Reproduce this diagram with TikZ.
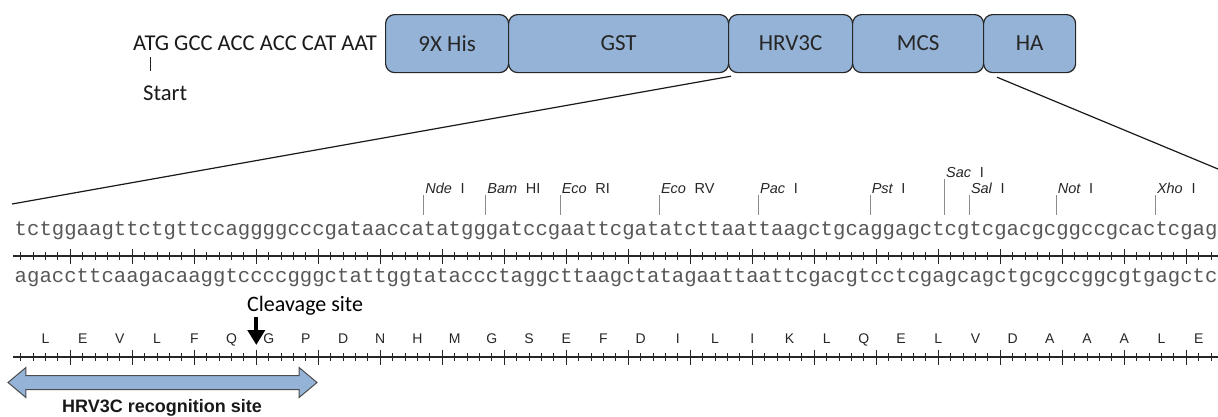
\documentclass[tikz,border=0pt]{standalone}
\usepackage{fontspec}
\setmainfont{Carlito}
\newfontfamily\arialf{Liberation Sans}
\newfontfamily\monof{Liberation Mono}
\usetikzlibrary{arrows.meta,calc,shapes.arrows}
\definecolor{boxblue}{RGB}{149,179,215}
\definecolor{seqgray}{RGB}{88,88,88}
\definecolor{cutgray}{RGB}{140,140,140}

\begin{document}
\begin{tikzpicture}[x=1pt,y=-1pt,
  tagbox/.style={draw=black!85,line width=1.2pt,fill=boxblue,rounded corners=9pt,
    minimum height=58pt,inner sep=0pt,anchor=north west,text=black!85,
    font=\fontsize{23}{27}\selectfont},
  seqtext/.style={inner sep=0pt,anchor=base west,text=seqgray,
    font=\monof\fontsize{20.667}{24}\selectfont},
  ruler/.style={line width=1.1pt,black!85},
  tickmark/.style={line width=1pt,black!85},
  cutline/.style={line width=1pt,cutgray},
  enzyme/.style={inner sep=0pt,anchor=base west,text=black!85,
    font=\arialf\fontsize{14.5}{17}\selectfont},
  aa/.style={inner sep=0pt,anchor=base,text=black!85,
    font=\arialf\fontsize{14}{16}\selectfont},
  zoomline/.style={line width=1.2pt,black!90},
  plaintext/.style={inner sep=0pt,text=black!90,font=\fontsize{22.6}{26}\selectfont}]
\useasboundingbox (0,0) rectangle (1218,416);

% fusion tag domains
\node[tagbox,minimum width=123pt] (his) at (385,14) {9X His};
\node[tagbox,minimum width=220pt] (gst) at (508,14) {GST};
\node[tagbox,minimum width=124pt] (hrv) at (728,14) {HRV3C};
\node[tagbox,minimum width=131pt] (mcs) at (852,14) {MCS};
\node[tagbox,minimum width=92pt]  (ha)  at (983,14) {HA};

% start codon and leader
\node[plaintext,anchor=west] (atg) at (133,43) {ATG GCC ACC ACC CAT AAT};
\node[plaintext,anchor=west] (start) at (143,93) {Start};
\coordinate (starttop) at (150,57);
\coordinate (startbot) at (150,71);
\draw[line width=1pt,black!85] (starttop) -- (startbot);

% zoom-in lines from the HRV3C--MCS region to the sequence
\coordinate (zoomL) at (12,204);
\coordinate (zoomR) at (1218,169);
\draw[zoomline] ($(hrv.south west)+(3,3)$) -- (zoomL);
\draw[zoomline] ($(ha.south west)+(14,4)$) -- (zoomR);

% double-stranded sequence
\node[seqtext] (topstrand) at (14.5,235.5)
  {tctggaagttctgttccaggggcccgataaccatatgggatccgaattcgatatcttaattaagctgcaggagctcgtcgacgcggccgcactcgag};
\node[seqtext] (botstrand) at (14.5,282)
  {agaccttcaagacaaggtccccgggctattggtataccctaggcttaagctatagaattaattcgacgtcctcgagcagctgcgccggcgtgagctc};

% nucleotide rulers
\foreach \ry in {256,357}{
  \draw[ruler] (13,\ry) -- (1218,\ry);
  \foreach \i in {0,...,96}{
    \pgfmathsetmacro{\tx}{14.5+(\i+0.5)*12.4}
    \pgfmathtruncatemacro{\big}{mod(\i,5)==4 ? 1 : 0}
    \ifnum\big=1
      \draw[tickmark] (\tx,\ry-7.5) -- (\tx,\ry+7.5);
    \else
      \draw[tickmark] (\tx,\ry-4) -- (\tx,\ry+4);
    \fi
  }
}

% restriction sites: cut position, name, suffix, top of marker
\foreach \b/\nm/\sf/\ty in {33/Nde/I/195, 38/Bam/HI/195, 44/Eco/RI/195, 52/Eco/RV/195,
    60/Pac/I/195, 69/Pst/I/195, 75/Sac/I/179, 77/Sal/I/195, 84/Not/I/195, 92/Xho/I/195}{
  \pgfmathsetmacro{\cx}{14.5+\b*12.4}
  \draw[cutline] (\cx,\ty) -- (\cx,215);
  \node[enzyme] at (\cx+1.5,\ty-1.5) {\itshape\nm\upshape\hspace{0.6em}\sf};
}

% translated reading frame
\foreach \a [count=\k from 0] in {L,E,V,L,F,Q,G,P,D,N,H,M,G,S,E,F,D,I,L,I,K,L,Q,E,L,V,D,A,A,A,L,E}{
  \node[aa] at ({14.5+(2.5+3*\k)*12.4},343) {\a};
}

% cleavage site
\node[inner sep=0pt,anchor=west,text=black,font=\fontsize{22}{26}\selectfont] (cleave) at (247,306) {Cleavage site};
\coordinate (arrtop) at (256.3,317);
\coordinate (arrtip) at (256.3,345);
\draw[line width=4pt,black,-{Triangle[length=15pt,width=17pt]}] (arrtop) -- (arrtip);

% HRV3C recognition site
\node[double arrow,draw=black!70,line width=1pt,fill=boxblue,inner xsep=0pt,inner ysep=6.5pt,
  double arrow head extend=8pt,minimum height=309pt,double arrow tip angle=80] (recog) at (162.5,382.5) {};
\node[inner sep=0pt,text=black!90,font=\arialf\bfseries\fontsize{18}{20}\selectfont] (recoglab) at (162,408) {HRV3C recognition site};
\end{tikzpicture}
\end{document}
